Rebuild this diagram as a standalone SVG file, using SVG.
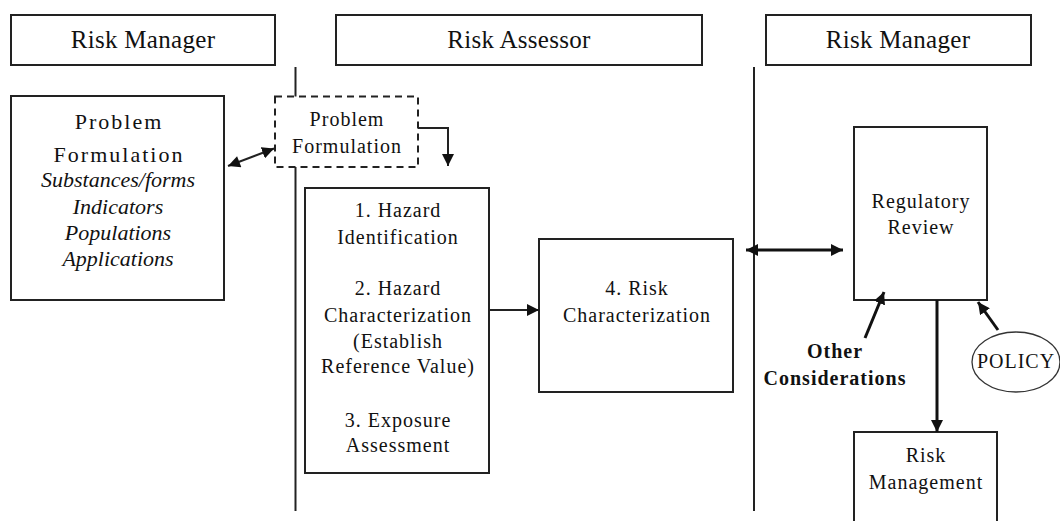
<svg xmlns="http://www.w3.org/2000/svg" width="1060" height="521" viewBox="0 0 1060 521">
  <style>
    .box { fill: #fff; stroke: #222; stroke-width: 2; }
    .dash { fill: #fff; stroke: #222; stroke-width: 2; stroke-dasharray: 7 5; }
    .line { fill: none; stroke: #222; stroke-width: 2; }
    .thick { fill: none; stroke: #111; stroke-width: 3; }
    text { font-family: "Liberation Serif", "Times New Roman", serif; fill: #111; text-anchor: middle; }
    .hdr { font-size: 25px; letter-spacing: 0.3px; }
    .big { font-size: 22px; letter-spacing: 2px; }
    .ital { font-size: 22px; font-style: italic; }
    .lbl { font-size: 20px; letter-spacing: 1px; }
    .bold { font-size: 20px; font-weight: bold; letter-spacing: 1px; }
  </style>
  <defs>
    <marker id="tip" markerUnits="userSpaceOnUse" markerWidth="14" markerHeight="12" refX="12" refY="6" orient="auto">
      <path d="M0,0 L12,6 L0,12 z" fill="#111"/>
    </marker>
    <marker id="tail" markerUnits="userSpaceOnUse" markerWidth="14" markerHeight="12" refX="0" refY="6" orient="auto">
      <path d="M12,0 L0,6 L12,12 z" fill="#111"/>
    </marker>
  </defs>

  <rect width="1060" height="521" fill="#fff"/>

  <!-- swim lane headers -->
  <g id="hdr-manager-left">
    <rect class="box" x="11" y="15" width="264" height="50"/>
    <text class="hdr" x="143" y="48">Risk Manager</text>
  </g>
  <g id="hdr-assessor">
    <rect class="box" x="336" y="15" width="366" height="50"/>
    <text class="hdr" x="519" y="48">Risk Assessor</text>
  </g>
  <g id="hdr-manager-right">
    <rect class="box" x="766" y="15" width="265" height="50"/>
    <text class="hdr" x="898" y="48">Risk Manager</text>
  </g>

  <!-- lane dividers -->
  <g id="dividers">
    <line class="line" x1="295.5" y1="67" x2="295.5" y2="511"/>
    <line class="line" x1="754" y1="67" x2="754" y2="511"/>
  </g>

  <g id="problem-formulation-manager">
    <rect class="box" x="11" y="96" width="213" height="204"/>
    <text class="big" x="119" y="129">Problem</text>
    <text class="big" x="119" y="162">Formulation</text>
    <text class="ital" x="118" y="187">Substances/forms</text>
    <text class="ital" x="118" y="214">Indicators</text>
    <text class="ital" x="118" y="240">Populations</text>
    <text class="ital" x="118" y="266">Applications</text>
  </g>

  <g id="problem-formulation-assessor">
    <rect class="dash" x="275" y="96.5" width="143" height="70.5"/>
    <text class="lbl" x="347" y="126">Problem</text>
    <text class="lbl" x="347" y="153">Formulation</text>
  </g>

  <g id="hazard-steps">
    <rect class="box" x="305" y="188" width="184" height="285"/>
    <text class="lbl" x="398" y="217">1. Hazard</text>
    <text class="lbl" x="398" y="244">Identification</text>
    <text class="lbl" x="398" y="295">2. Hazard</text>
    <text class="lbl" x="398" y="322">Characterization</text>
    <text class="lbl" x="398" y="348">(Establish</text>
    <text class="lbl" x="398" y="373">Reference Value)</text>
    <text class="lbl" x="398" y="427">3. Exposure</text>
    <text class="lbl" x="398" y="452">Assessment</text>
  </g>

  <g id="risk-characterization">
    <rect class="box" x="539" y="239" width="194" height="153"/>
    <text class="lbl" x="637" y="295">4. Risk</text>
    <text class="lbl" x="637" y="322">Characterization</text>
  </g>

  <g id="regulatory-review">
    <rect class="box" x="854" y="127" width="133" height="173"/>
    <text class="lbl" x="921" y="208">Regulatory</text>
    <text class="lbl" x="921" y="234">Review</text>
  </g>

  <g id="risk-management">
    <rect class="box" x="854" y="432" width="143" height="110"/>
    <text class="lbl" x="926" y="462">Risk</text>
    <text class="lbl" x="926" y="489">Management</text>
  </g>

  <g id="other-considerations">
    <text class="bold" x="835" y="358">Other</text>
    <text class="bold" x="835" y="385">Considerations</text>
  </g>

  <g id="policy">
    <ellipse cx="1016" cy="362" rx="44" ry="30" fill="#fff" stroke="#333" stroke-width="1.3"/>
    <text class="lbl" x="1016" y="368">POLICY</text>
  </g>

  <!-- connectors -->
  <g id="connectors">
    <line class="line" x1="228" y1="166" x2="274" y2="148.5" stroke-width="2.5" marker-start="url(#tail)" marker-end="url(#tip)"/>
    <polyline class="line" points="418,128 448,128 448,166" marker-end="url(#tip)"/>
    <line class="line" x1="489" y1="310" x2="539" y2="310" marker-end="url(#tip)"/>
    <line class="thick" x1="746" y1="250" x2="843" y2="250" marker-start="url(#tail)" marker-end="url(#tip)"/>
    <line class="thick" x1="937" y1="300" x2="937" y2="432" marker-end="url(#tip)"/>
    <line class="thick" x1="865" y1="338" x2="884" y2="292" marker-end="url(#tip)"/>
    <line class="thick" x1="998" y1="330" x2="978" y2="302" marker-end="url(#tip)"/>
  </g>
</svg>
